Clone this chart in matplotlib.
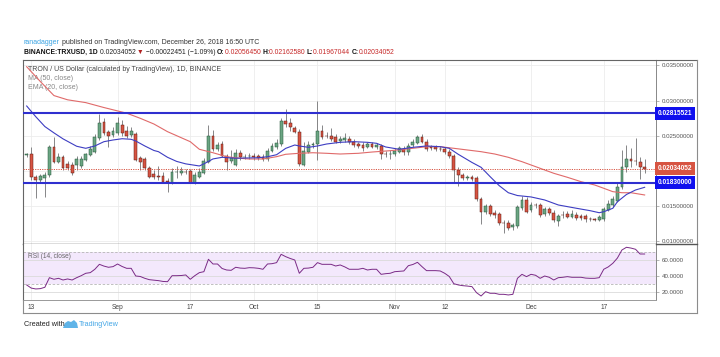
import numpy as np
import pandas as pd
import matplotlib
matplotlib.use('Agg')
import matplotlib.pyplot as plt
import matplotlib.transforms as mtransforms
from matplotlib.lines import Line2D
from matplotlib.patches import Polygon

plt.rcParams['font.family'] = ['Liberation Sans', 'DejaVu Sans']

# ---------------- data ----------------
dates = pd.date_range('2018-08-12', '2018-12-26', freq='D')

opens = [0.02219, 0.02240, 0.01914, 0.01871, 0.01899, 0.01935, 0.02339, 0.02130, 0.02201, 0.02098,
         0.02084, 0.02084, 0.02070, 0.02155, 0.02226, 0.02273, 0.02463, 0.02699, 0.02548, 0.02510,
         0.02534, 0.02652, 0.02567, 0.02510, 0.02524, 0.02183, 0.02169, 0.02041, 0.01956, 0.01921,
         0.01928, 0.01850, 0.01835, 0.01984, 0.01970, 0.01989, 0.01998, 0.01832, 0.01918, 0.01974,
         0.02130, 0.02496, 0.02307, 0.02382, 0.02212, 0.02141, 0.02084, 0.02250, 0.02197, 0.02205,
         0.02208, 0.02212, 0.02201, 0.02165, 0.02287, 0.02340, 0.02382, 0.02709, 0.02676, 0.02605,
         0.02557, 0.02084, 0.02273, 0.02368, 0.02382, 0.02571, 0.02496, 0.02489, 0.02477, 0.02425,
         0.02439, 0.02449, 0.02414, 0.02382, 0.02368, 0.02344, 0.02382, 0.02339, 0.02354, 0.02240,
         0.02233, 0.02240, 0.02273, 0.02307, 0.02273, 0.02368, 0.02400, 0.02477, 0.02414, 0.02335,
         0.02339, 0.02311, 0.02307, 0.02273, 0.02212, 0.02013, 0.01942, 0.01905, 0.01914, 0.01895,
         0.01597, 0.01420, 0.01501, 0.01406, 0.01388, 0.01264, 0.01264, 0.01203, 0.01218, 0.01469,
         0.01587, 0.01445, 0.01516, 0.01516, 0.01388, 0.01455, 0.01406, 0.01293, 0.01374, 0.01388,
         0.01350, 0.01374, 0.01360, 0.01360, 0.01313, 0.01310, 0.01303, 0.01313, 0.01445, 0.01516,
         0.01577, 0.01767, 0.02051, 0.02165, 0.02141, 0.02130, 0.02056450]
highs = [0.02254, 0.02339, 0.01942, 0.01956, 0.01984, 0.02368, 0.02481, 0.02254, 0.02226, 0.02141,
         0.02126, 0.02212, 0.02212, 0.02254, 0.02354, 0.02524, 0.02808, 0.02751, 0.02581, 0.02624,
         0.02766, 0.02720, 0.02638, 0.02624, 0.02553, 0.02212, 0.02197, 0.02070, 0.02013, 0.02070,
         0.01984, 0.01899, 0.02041, 0.02070, 0.02055, 0.02027, 0.02027, 0.01984, 0.02041, 0.02183,
         0.02652, 0.02581, 0.02410, 0.02425, 0.02240, 0.02297, 0.02311, 0.02297, 0.02240, 0.02254,
         0.02254, 0.02240, 0.02240, 0.02325, 0.02396, 0.02453, 0.02751, 0.02875, 0.02751, 0.02638,
         0.02595, 0.02410, 0.02425, 0.02410, 0.02997, 0.02652, 0.02553, 0.02609, 0.02524, 0.02496,
         0.02538, 0.02496, 0.02453, 0.02410, 0.02410, 0.02410, 0.02410, 0.02396, 0.02382, 0.02282,
         0.02297, 0.02325, 0.02354, 0.02354, 0.02396, 0.02453, 0.02510, 0.02524, 0.02453, 0.02368,
         0.02368, 0.02354, 0.02339, 0.02311, 0.02240, 0.02055, 0.01970, 0.01942, 0.01942, 0.01928,
         0.01629, 0.01530, 0.01530, 0.01445, 0.01416, 0.01303, 0.01303, 0.01260, 0.01516, 0.01643,
         0.01629, 0.01558, 0.01544, 0.01544, 0.01487, 0.01487, 0.01445, 0.01388, 0.01430, 0.01430,
         0.01445, 0.01416, 0.01388, 0.01388, 0.01345, 0.01331, 0.01374, 0.01487, 0.01587, 0.01643,
         0.01832, 0.02297, 0.02368, 0.02321, 0.02463, 0.02194, 0.02162580]
lows = [0.02197, 0.01871, 0.01615, 0.01842, 0.01634, 0.01914, 0.02115, 0.02116, 0.02013, 0.02013,
        0.01942, 0.02013, 0.02041, 0.02141, 0.02212, 0.02254, 0.02439, 0.02510, 0.02339, 0.02481,
        0.02510, 0.02496, 0.02467, 0.02481, 0.02141, 0.02013, 0.02013, 0.01899, 0.01885, 0.01871,
        0.01828, 0.01705, 0.01814, 0.01899, 0.01942, 0.01956, 0.01821, 0.01814, 0.01899, 0.01956,
        0.02112, 0.02282, 0.02282, 0.02197, 0.02013, 0.02116, 0.02070, 0.02155, 0.02169, 0.02169,
        0.02155, 0.02155, 0.02141, 0.02141, 0.02268, 0.02311, 0.02354, 0.02624, 0.02567, 0.02538,
        0.02070, 0.02070, 0.02254, 0.02325, 0.02155, 0.02453, 0.02467, 0.02425, 0.02396, 0.02396,
        0.02410, 0.02382, 0.02339, 0.02325, 0.02282, 0.02325, 0.02325, 0.02311, 0.02165, 0.02197,
        0.02169, 0.02212, 0.02254, 0.02226, 0.02226, 0.02339, 0.02382, 0.02396, 0.02282, 0.02297,
        0.02282, 0.02282, 0.02240, 0.02183, 0.01846, 0.01785, 0.01871, 0.01871, 0.01856, 0.01573,
        0.01246, 0.01388, 0.01360, 0.01331, 0.01232, 0.01118, 0.01160, 0.01160, 0.01189, 0.01445,
        0.01402, 0.01416, 0.01473, 0.01345, 0.01360, 0.01374, 0.01274, 0.01218, 0.01331, 0.01331,
        0.01331, 0.01303, 0.01303, 0.01274, 0.01289, 0.01282, 0.01289, 0.01289, 0.01430, 0.01487,
        0.01558, 0.01743, 0.01984, 0.02060, 0.02084, 0.01881, 0.01967044]
closes = [0.02233, 0.01914, 0.01871, 0.01921, 0.01935, 0.02339, 0.02130, 0.02201, 0.02041, 0.02041,
          0.01970, 0.02169, 0.02169, 0.02240, 0.02311, 0.02481, 0.02685, 0.02534, 0.02496, 0.02567,
          0.02685, 0.02538, 0.02496, 0.02571, 0.02155, 0.02126, 0.02041, 0.01918, 0.01914, 0.01914,
          0.01847, 0.01840, 0.01989, 0.01989, 0.01998, 0.01984, 0.01832, 0.01942, 0.01989, 0.02141,
          0.02496, 0.02307, 0.02368, 0.02212, 0.02130, 0.02183, 0.02250, 0.02194, 0.02201, 0.02212,
          0.02201, 0.02179, 0.02165, 0.02287, 0.02354, 0.02396, 0.02715, 0.02666, 0.02619, 0.02557,
          0.02098, 0.02287, 0.02368, 0.02375, 0.02571, 0.02486, 0.02489, 0.02449, 0.02414, 0.02457,
          0.02463, 0.02406, 0.02368, 0.02354, 0.02321, 0.02382, 0.02344, 0.02368, 0.02240, 0.02233,
          0.02247, 0.02287, 0.02321, 0.02273, 0.02354, 0.02414, 0.02477, 0.02414, 0.02307, 0.02330,
          0.02311, 0.02304, 0.02273, 0.02212, 0.02013, 0.01942, 0.01895, 0.01909, 0.01885, 0.01597,
          0.01420, 0.01501, 0.01388, 0.01374, 0.01264, 0.01257, 0.01193, 0.01232, 0.01491, 0.01587,
          0.01420, 0.01516, 0.01509, 0.01374, 0.01455, 0.01402, 0.01303, 0.01360, 0.01370, 0.01350,
          0.01388, 0.01327, 0.01331, 0.01313, 0.01310, 0.01303, 0.01341, 0.01455, 0.01530, 0.01597,
          0.01775, 0.02051, 0.02165, 0.02141, 0.02137, 0.02060, 0.02034052]

ma50_day = [0, 3, 6, 9, 13, 17, 22, 25, 28, 31, 36, 38, 41, 44, 47, 49, 52, 55, 57, 60, 63, 66,
            69, 73, 76, 80, 83, 85, 88, 91, 94, 97, 100, 103, 106, 109, 111, 113, 116, 119, 122,
            125, 127, 129, 131, 133, 136]
ma50_vals = [0.03480, 0.03270, 0.03070, 0.03010, 0.02970, 0.02900, 0.02820, 0.02747, 0.02666,
             0.02557, 0.02415, 0.02307, 0.02258, 0.02202, 0.02179, 0.02169, 0.02169, 0.02202,
             0.02236, 0.02250, 0.02258, 0.02250, 0.02240, 0.02250, 0.02268, 0.02287, 0.02307,
             0.02321, 0.02344, 0.02344, 0.02321, 0.02297, 0.02273, 0.02240, 0.02193, 0.02131,
             0.02084, 0.02037, 0.01966, 0.01909, 0.01847, 0.01800, 0.01753, 0.01705, 0.01690,
             0.01690, 0.01658]

ema20_day = [0, 2, 4, 6, 8, 11, 13, 15, 17, 19, 21, 23, 24, 26, 28, 29, 31, 33, 35, 38, 39, 41,
             43, 46, 51, 53, 55, 57, 59, 60, 62, 64, 66, 69, 72, 75, 77, 79, 82, 85, 88, 91, 93,
             95, 98, 100, 102, 104, 106, 108, 111, 114, 117, 121, 124, 126, 127, 129, 130, 132,
             134, 136]
ema20_vals = [0.02922, 0.02770, 0.02630, 0.02540, 0.02455, 0.02350, 0.02321, 0.02354, 0.02415,
              0.02439, 0.02457, 0.02449, 0.02425, 0.02354, 0.02290, 0.02273, 0.02193, 0.02135,
              0.02100, 0.02070, 0.02100, 0.02170, 0.02193, 0.02180, 0.02187, 0.02201, 0.02230,
              0.02320, 0.02368, 0.02354, 0.02335, 0.02354, 0.02382, 0.02406, 0.02415, 0.02406,
              0.02392, 0.02340, 0.02307, 0.02335, 0.02354, 0.02344, 0.02321, 0.02235, 0.02120,
              0.02051, 0.01918, 0.01790, 0.01690, 0.01650, 0.01630, 0.01587, 0.01516, 0.01469,
              0.01435, 0.01406, 0.01420, 0.01469, 0.01562, 0.01665, 0.01729, 0.01767]

rsi_vals = [29.4, 25.5, 24.4, 24.8, 26.5, 38.5, 36.5, 37.7, 35.6, 36.9,
            35.6, 38.5, 41.0, 44.0, 44.8, 49.0, 55.2, 53.0, 51.5, 52.3,
            55.6, 52.5, 50.2, 50.2, 40.6, 40.0, 37.7, 36.0, 35.4, 34.8,
            33.8, 33.5, 41.0, 41.0, 41.2, 41.9, 36.5, 41.0, 44.8, 46.0,
            61.5, 55.6, 55.6, 50.0, 48.1, 47.7, 51.5, 50.5, 50.2, 51.0,
            50.8, 50.2, 49.0, 55.6, 56.0, 57.3, 67.7, 64.8, 62.5, 60.6,
            44.0, 50.2, 50.5, 51.5, 57.3, 55.2, 55.2, 55.2, 53.1, 54.4,
            52.0, 49.0, 49.0, 49.0, 50.2, 48.1, 49.0, 49.0, 42.7, 43.5,
            44.0, 46.0, 46.5, 46.9, 53.5, 55.0, 57.7, 52.3, 47.3, 47.3,
            47.3, 46.9, 44.0, 40.0, 31.0, 29.4, 28.5, 28.0, 27.3, 19.8,
            15.6, 21.0, 19.0, 19.0, 17.7, 17.7, 16.9, 17.7, 37.7, 42.7,
            39.8, 42.7, 41.5, 37.7, 40.6, 39.0, 35.6, 38.5, 39.0, 39.8,
            39.0, 39.0, 39.0, 38.0, 37.7, 37.7, 38.5, 49.0, 52.0, 56.5,
            63.0, 73.1, 76.5, 75.5, 74.0, 68.1, 68.1]

level_high = 0.02815521
level_low = 0.01830000
last_price = 0.02034052
price_ticks = [0.035, 0.030, 0.025, 0.015, 0.010]
price_grid = [0.035, 0.030, 0.025, 0.020, 0.015, 0.010]
rsi_ticks = [60, 40, 20]
tick_dates = ['2018-08-13', '2018-09-01', '2018-09-17', '2018-10-01', '2018-10-15',
              '2018-11-01', '2018-11-12', '2018-12-01', '2018-12-17']
tick_labels = ['13', 'Sep', '17', 'Oct', '15', 'Nov', '12', 'Dec', '17']

# ---------------- layout helpers ----------------
W, H = 720, 357
fig = plt.figure(figsize=(7.2, 3.57), dpi=100)
fig.patch.set_facecolor('white')


def fx(px):
    return px / W


def fy(py):
    return 1 - py / H


L, R, T, MB, RB = 23, 656, 60, 244, 300
ax = fig.add_axes([fx(L), fy(MB), (R - L) / W, (MB - T) / H])
axr = fig.add_axes([fx(L), fy(RB), (R - L) / W, (RB - MB) / H], sharex=ax)

x = np.arange(len(dates))
o = np.array(opens); h = np.array(highs); lo = np.array(lows); c = np.array(closes)
date_pos = {d.strftime('%Y-%m-%d'): i for i, d in enumerate(dates)}
tick_pos = [date_pos[d] for d in tick_dates]

ax.set_xlim(-0.81, 138.5)
ax.set_ylim(0.009616, 0.035753)

# grid
for v in price_grid:
    ax.axhline(v, color='#ececec', lw=0.6, zorder=0)
for t in tick_pos:
    ax.axvline(t, color='#ececec', lw=0.6, zorder=0)
    axr.axvline(t, color='#ececec', lw=0.6, zorder=0)

# candles
up = c >= o
ax.vlines(x, lo, h, color='#737375', lw=0.6, zorder=2)
body_bottom = np.minimum(o, c)
body_h = np.maximum(np.abs(c - o), 0.00004)
ax.bar(x[up], body_h[up], bottom=body_bottom[up], width=0.62, color='#6ba583',
       edgecolor='#225437', linewidth=0.35, zorder=3)
ax.bar(x[~up], body_h[~up], bottom=body_bottom[~up], width=0.62, color='#d75442',
       edgecolor='#5b1a13', linewidth=0.35, zorder=3)

# moving averages
ax.plot(x[ma50_day], ma50_vals, color='#e06a6a', lw=0.8, zorder=4)
ax.plot(x[ema20_day], ema20_vals, color='#3d3dc2', lw=0.8, zorder=4)

# levels
ax.axhline(level_high, color='#2f2fcf', lw=1.5, zorder=5)
ax.axhline(level_low, color='#2f2fcf', lw=1.5, zorder=5)
ax.axhline(last_price, color='#d75442', lw=0.7, ls=(0, (1.2, 1.2)), zorder=5)

# price axis
ax.yaxis.tick_right()
ax.set_yticks(price_ticks)
ax.set_yticklabels(['%.8f' % v for v in price_ticks])
ax.tick_params(axis='y', length=2, width=0.5, color='#999999', labelsize=4.4,
               labelcolor='#555555', pad=2)
ax.tick_params(axis='x', length=0, labelbottom=False)

trans = mtransforms.blended_transform_factory(ax.transAxes, ax.transData)
for val, col in [(level_high, '#1010ee'), (level_low, '#1010ee'), (last_price, '#d75442')]:
    ax.text(1.003, val, '%.8f' % val, transform=trans, color='white', fontsize=4.7,
            fontweight='bold', va='center', ha='left', clip_on=False, zorder=10,
            bbox=dict(boxstyle='square,pad=0.45', fc=col, ec='none'))

for s in ['left', 'top']:
    ax.spines[s].set_color('#666666'); ax.spines[s].set_linewidth(0.8)
ax.spines['right'].set_color('#888888'); ax.spines['right'].set_linewidth(0.7)
ax.spines['bottom'].set_color('#555555'); ax.spines['bottom'].set_linewidth(1.0)

# legend texts
ax.text(0.008, 0.951, 'TRON / US Dollar (calculated by TradingView), 1D, BINANCE',
        transform=ax.transAxes, fontsize=5.0, color='#444444', va='center', ha='left')
ax.text(0.008, 0.898, 'MA (50, close)', transform=ax.transAxes, fontsize=5.0,
        color='#888888', va='center', ha='left')
ax.text(0.008, 0.848, 'EMA (20, close)', transform=ax.transAxes, fontsize=5.0,
        color='#888888', va='center', ha='left')

# RSI panel
axr.set_ylim(10.6, 80.6)
axr.axhspan(30, 70, color='#f3e8fc', zorder=0, lw=0)
for v in rsi_ticks:
    axr.axhline(v, color='#dadada', lw=0.6, zorder=1)
axr.axhline(70, color='#b5b5b5', lw=0.6, ls=(0, (3, 2)), zorder=1)
axr.axhline(30, color='#b5b5b5', lw=0.6, ls=(0, (3, 2)), zorder=1)
axr.plot(x, rsi_vals, color='#7a2a86', lw=0.7, zorder=3)
axr.yaxis.tick_right()
axr.set_yticks(rsi_ticks)
axr.set_yticklabels(['%.4f' % v for v in rsi_ticks])
axr.tick_params(axis='y', length=2, width=0.5, color='#999999', labelsize=4.4,
                labelcolor='#555555', pad=2)
axr.set_xticks(tick_pos)
axr.set_xticklabels(tick_labels)
axr.tick_params(axis='x', length=0, labelsize=4.8, labelcolor='#444444', pad=3)
axr.text(0.008, 0.78, 'RSI (14, close)', transform=axr.transAxes, fontsize=4.7,
         color='#666666', va='center', ha='left')
axr.spines['top'].set_visible(False)
axr.spines['left'].set_color('#666666'); axr.spines['left'].set_linewidth(0.8)
axr.spines['right'].set_color('#888888'); axr.spines['right'].set_linewidth(0.7)
axr.spines['bottom'].set_color('#999999'); axr.spines['bottom'].set_linewidth(0.7)

# outer frame
frame = '#8c8c8c'
for (x0, y0, x1, y1, col, lw) in [
        (R, T, 697, T, '#666666', 0.8),
        (697, T, 697, 313, frame, 0.8),
        (L, 313, 697, 313, frame, 0.8),
        (L, RB, L, 313, frame, 0.8),
        (R, MB, 697, MB, '#555555', 1.0)]:
    fig.add_artist(Line2D([fx(x0), fx(x1)], [fy(y0), fy(y1)], color=col, lw=lw))

# header
t1 = fig.text(fx(24), fy(43), 'ranadagger', color='#3aa3e3', fontsize=5.0, va='center', ha='left')
plt.annotate(' published on TradingView.com, December 26, 2018 16:50 UTC', xy=(1, 0),
             xycoords=t1, va='bottom', ha='left', fontsize=5.0, color='#333333',
             annotation_clip=False)

segments = [('BINANCE:TRXUSD, 1D ', '#111111', 'bold'),
            ('0.02034052 ', '#222222', 'normal'),
            ('\u25bc', '#b02020', 'normal'),
            (' \u22120.00022451 (\u22121.09%) ', '#222222', 'normal'),
            ('O:', '#111111', 'bold'), ('0.02056450 ', '#c62828', 'normal'),
            ('H:', '#111111', 'bold'), ('0.02162580 ', '#c62828', 'normal'),
            ('L:', '#111111', 'bold'), ('0.01967044 ', '#c62828', 'normal'),
            ('C:', '#111111', 'bold'), ('0.02034052', '#c62828', 'normal')]
prev = None
for s, col, fw in segments:
    if prev is None:
        prev = fig.text(fx(24), fy(52), s, color=col, fontsize=4.9, fontweight=fw,
                        va='center', ha='left')
    else:
        prev = plt.annotate(s, xy=(1, 0), xycoords=prev, va='bottom', ha='left',
                            fontsize=4.9, fontweight=fw, color=col, annotation_clip=False)

# footer
fig.text(fx(24), fy(325), 'Created with', fontsize=5.2, color='#222222', va='center', ha='left')
logo = Polygon([[fx(63), fy(328)], [fx(65), fy(323)], [fx(68), fy(321)], [fx(71), fy(322)],
                [fx(74), fy(320)], [fx(77), fy(323)], [fx(78), fy(328)]],
               closed=True, transform=fig.transFigure, fc='#5fb4e8', ec='none')
fig.add_artist(logo)
fig.text(fx(79), fy(325), 'TradingView', fontsize=5.2, color='#45a7e6', va='center', ha='left')

fig.savefig('out.png', dpi=100, facecolor='white')
